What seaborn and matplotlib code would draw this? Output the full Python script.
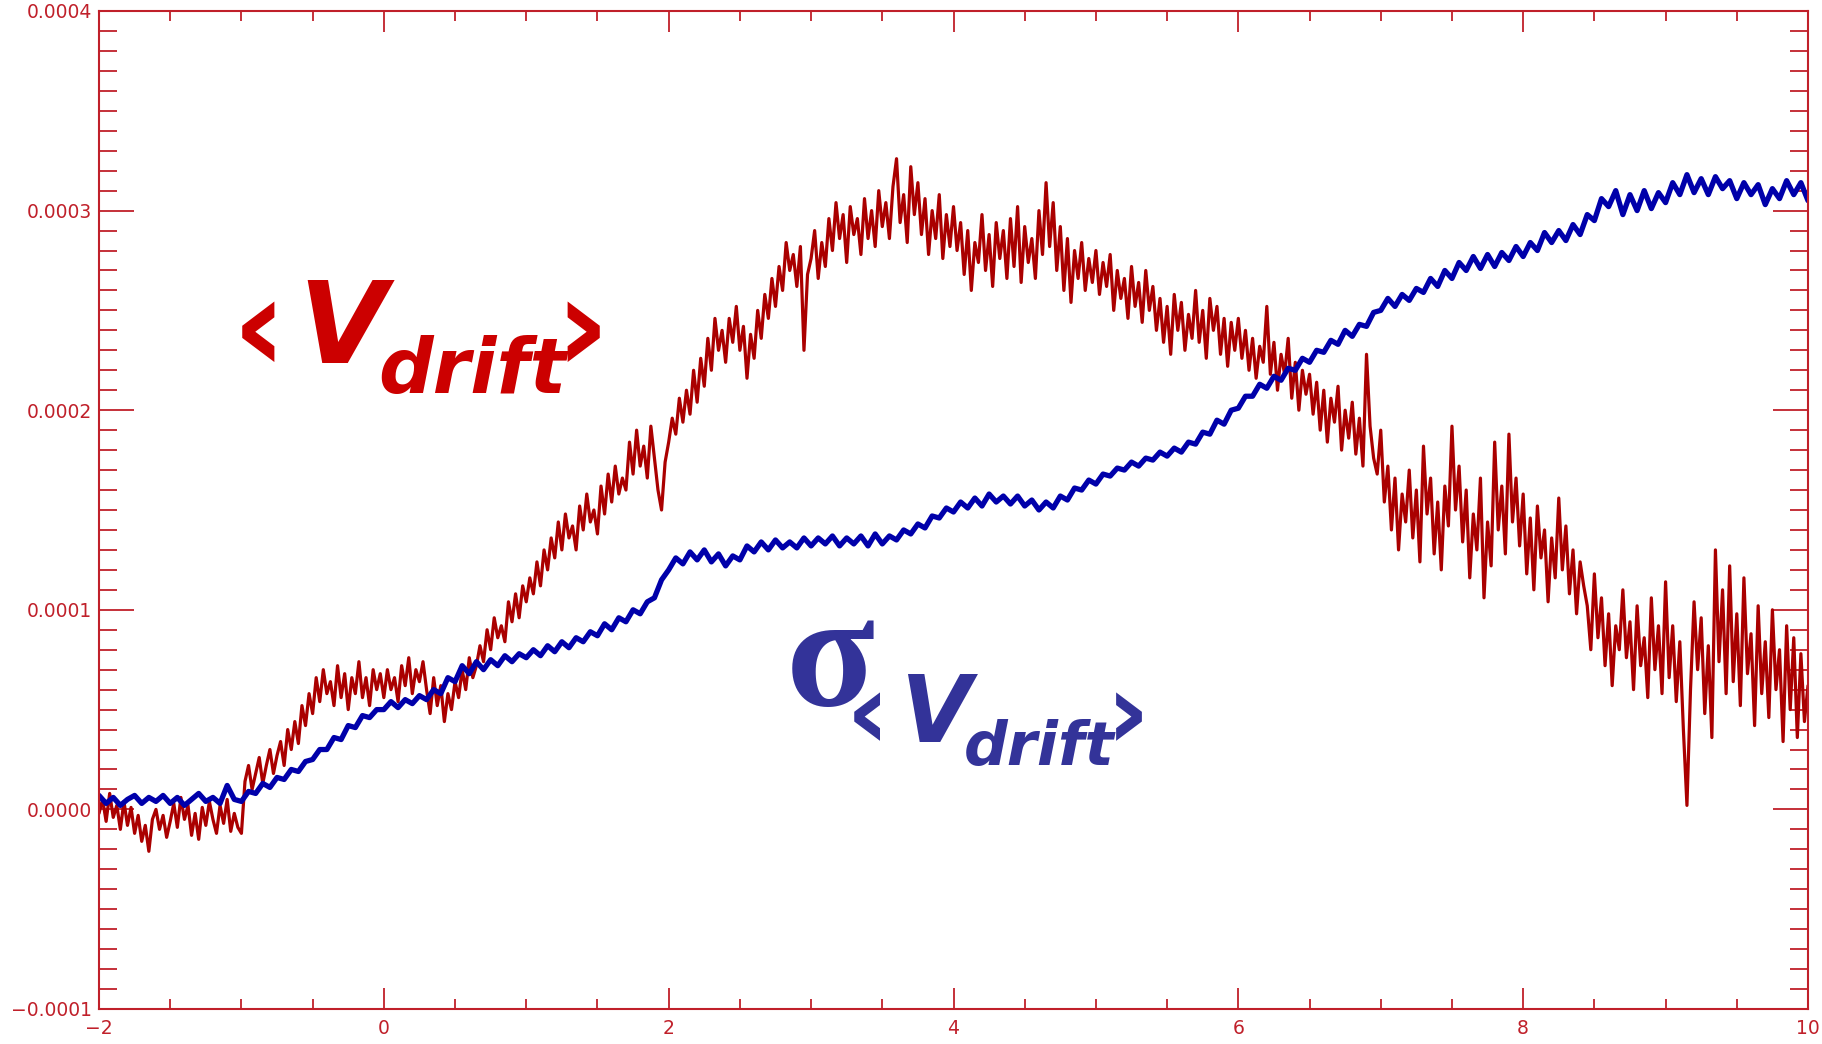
import numpy as np
import pandas as pd
import matplotlib
matplotlib.use("Agg")
import matplotlib.pyplot as plt
import seaborn as sns
from matplotlib.ticker import MultipleLocator, FuncFormatter

# <V_drift>, every 0.025 in t, in units of 1e-4
v_drift = [
    -0.02, 0.05, -0.06, 0.08, -0.04, 0.02, -0.10, 0.04, -0.08, 0.01, -0.12, -0.03, -0.16, -0.08, -0.21, -0.05, 0.00, -0.10, -0.03, -0.14,
    -0.06, 0.03, -0.09, 0.06, -0.05, 0.02, -0.13, -0.02, -0.15, 0.01, -0.08, 0.04, -0.05, -0.12, 0.02, -0.07, 0.05, -0.11, -0.02, -0.09,
    -0.12, 0.14, 0.22, 0.10, 0.18, 0.26, 0.13, 0.22, 0.30, 0.18, 0.27, 0.34, 0.22, 0.40, 0.30, 0.44, 0.33, 0.52, 0.42, 0.58,
    0.48, 0.66, 0.54, 0.70, 0.58, 0.64, 0.52, 0.72, 0.56, 0.68, 0.50, 0.66, 0.58, 0.74, 0.56, 0.66, 0.52, 0.70, 0.60, 0.68,
    0.56, 0.70, 0.60, 0.66, 0.54, 0.72, 0.62, 0.76, 0.58, 0.70, 0.64, 0.74, 0.60, 0.48, 0.66, 0.52, 0.62, 0.44, 0.58, 0.50,
    0.64, 0.56, 0.70, 0.60, 0.76, 0.66, 0.72, 0.82, 0.74, 0.90, 0.80, 0.96, 0.86, 0.92, 0.84, 1.04, 0.94, 1.08, 0.96, 1.12,
    1.04, 1.16, 1.08, 1.24, 1.12, 1.30, 1.20, 1.36, 1.26, 1.44, 1.30, 1.48, 1.36, 1.42, 1.30, 1.52, 1.40, 1.58, 1.44, 1.50,
    1.38, 1.62, 1.48, 1.68, 1.54, 1.72, 1.58, 1.66, 1.60, 1.84, 1.68, 1.90, 1.72, 1.82, 1.66, 1.92, 1.76, 1.60, 1.50, 1.74,
    1.84, 1.96, 1.88, 2.06, 1.94, 2.10, 1.98, 2.20, 2.04, 2.26, 2.12, 2.36, 2.20, 2.46, 2.30, 2.40, 2.24, 2.46, 2.34, 2.52,
    2.30, 2.42, 2.16, 2.38, 2.26, 2.50, 2.36, 2.58, 2.46, 2.66, 2.52, 2.72, 2.60, 2.84, 2.70, 2.78, 2.62, 2.82, 2.30, 2.68,
    2.76, 2.90, 2.66, 2.84, 2.72, 2.96, 2.80, 3.04, 2.86, 2.98, 2.74, 3.02, 2.88, 2.96, 2.78, 3.06, 2.86, 3.00, 2.82, 3.10,
    2.92, 3.04, 2.86, 3.12, 3.26, 2.94, 3.08, 2.84, 3.22, 2.98, 3.14, 2.88, 3.06, 2.78, 3.00, 2.86, 3.08, 2.76, 2.98, 2.82,
    3.02, 2.80, 2.94, 2.68, 2.90, 2.60, 2.84, 2.74, 2.98, 2.70, 2.88, 2.62, 2.94, 2.76, 2.90, 2.66, 2.96, 2.72, 3.02, 2.64,
    2.92, 2.74, 2.86, 2.66, 3.00, 2.78, 3.14, 2.82, 3.04, 2.70, 2.92, 2.60, 2.86, 2.54, 2.80, 2.66, 2.84, 2.60, 2.76, 2.64,
    2.80, 2.58, 2.74, 2.62, 2.78, 2.50, 2.70, 2.56, 2.66, 2.46, 2.72, 2.52, 2.64, 2.44, 2.70, 2.50, 2.62, 2.40, 2.56, 2.34,
    2.52, 2.28, 2.58, 2.40, 2.54, 2.30, 2.48, 2.36, 2.60, 2.34, 2.50, 2.26, 2.56, 2.40, 2.52, 2.28, 2.46, 2.22, 2.44, 2.30,
    2.46, 2.26, 2.40, 2.20, 2.36, 2.16, 2.32, 2.24, 2.52, 2.18, 2.34, 2.10, 2.28, 2.18, 2.36, 2.06, 2.24, 2.00, 2.20, 2.08,
    2.18, 1.98, 2.14, 1.90, 2.10, 1.84, 2.06, 1.94, 2.12, 1.80, 2.00, 1.86, 2.04, 1.78, 1.96, 1.72, 2.28, 1.92, 1.76, 1.68,
    1.90, 1.54, 1.72, 1.40, 1.66, 1.30, 1.58, 1.44, 1.70, 1.36, 1.60, 1.24, 1.82, 1.48, 1.66, 1.28, 1.54, 1.20, 1.62, 1.42,
    1.92, 1.50, 1.72, 1.34, 1.60, 1.16, 1.48, 1.30, 1.66, 1.06, 1.44, 1.22, 1.84, 1.40, 1.62, 1.28, 1.88, 1.44, 1.66, 1.32,
    1.58, 1.18, 1.46, 1.10, 1.52, 1.26, 1.40, 1.04, 1.36, 1.16, 1.56, 1.20, 1.42, 1.08, 1.30, 0.98, 1.24, 1.12, 1.02, 0.80,
    1.18, 0.86, 1.06, 0.72, 0.98, 0.62, 0.92, 0.80, 1.10, 0.76, 0.94, 0.60, 1.02, 0.72, 0.86, 0.56, 1.06, 0.70, 0.92, 0.58,
    1.14, 0.66, 0.92, 0.54, 0.84, 0.40, 0.02, 0.60, 1.04, 0.70, 0.96, 0.48, 0.82, 0.36, 1.30, 0.74, 1.10, 0.58, 1.22, 0.64,
    0.98, 0.52, 1.16, 0.68, 0.88, 0.42, 1.02, 0.58, 0.84, 0.46, 1.00, 0.60, 0.80, 0.34, 0.92, 0.50, 0.86, 0.36, 0.78, 0.44,
    0.62,
]

sigma_v = [
    0.07, 0.03, 0.06, 0.02, 0.05, 0.07, 0.03, 0.06, 0.04, 0.07, 0.03, 0.06, 0.02, 0.05, 0.08, 0.04, 0.06, 0.03, 0.12, 0.05,
    0.04, 0.09, 0.08, 0.13, 0.11, 0.16, 0.15, 0.20, 0.19, 0.24, 0.25, 0.30, 0.30, 0.36, 0.35, 0.42, 0.41, 0.47, 0.46, 0.50,
    0.50, 0.54, 0.51, 0.55, 0.53, 0.57, 0.55, 0.60, 0.58, 0.66, 0.64, 0.72, 0.68, 0.74, 0.70, 0.75, 0.72, 0.77, 0.74, 0.78,
    0.76, 0.80, 0.77, 0.82, 0.79, 0.84, 0.81, 0.86, 0.84, 0.89, 0.87, 0.93, 0.90, 0.96, 0.94, 1.00, 0.98, 1.04, 1.06, 1.15,
    1.20, 1.26, 1.23, 1.29, 1.25, 1.30, 1.24, 1.28, 1.22, 1.27, 1.25, 1.32, 1.29, 1.34, 1.30, 1.35, 1.31, 1.34, 1.31, 1.36,
    1.32, 1.36, 1.33, 1.37, 1.32, 1.36, 1.33, 1.37, 1.32, 1.38, 1.33, 1.37, 1.35, 1.40, 1.38, 1.43, 1.41, 1.47, 1.46, 1.51,
    1.49, 1.54, 1.51, 1.56, 1.52, 1.58, 1.54, 1.57, 1.53, 1.57, 1.52, 1.55, 1.50, 1.54, 1.51, 1.57, 1.55, 1.61, 1.60, 1.65,
    1.63, 1.68, 1.67, 1.71, 1.70, 1.74, 1.72, 1.76, 1.75, 1.79, 1.77, 1.81, 1.79, 1.84, 1.83, 1.89, 1.88, 1.95, 1.93, 2.00,
    2.01, 2.07, 2.07, 2.13, 2.11, 2.17, 2.15, 2.21, 2.20, 2.26, 2.24, 2.30, 2.29, 2.35, 2.33, 2.40, 2.37, 2.43, 2.42, 2.49,
    2.50, 2.56, 2.52, 2.58, 2.55, 2.61, 2.59, 2.66, 2.62, 2.70, 2.66, 2.74, 2.70, 2.77, 2.71, 2.78, 2.72, 2.79, 2.75, 2.82,
    2.77, 2.84, 2.80, 2.89, 2.84, 2.90, 2.85, 2.93, 2.88, 2.98, 2.95, 3.06, 3.02, 3.10, 2.98, 3.08, 3.00, 3.10, 3.01, 3.09,
    3.04, 3.14, 3.08, 3.18, 3.09, 3.16, 3.08, 3.17, 3.11, 3.15, 3.06, 3.14, 3.08, 3.13, 3.03, 3.11, 3.06, 3.15, 3.08, 3.14,
    3.05,
]

T_START, T_END = -2, 10
UNIT = 1e-4
W, H = 1822, 1044
AXC = "#C0202A"
RED_LINE, BLUE_LINE = "#AA0000", "#0000AA"
RED_TXT, BLUE_TXT = "#CC0000", "#333399"

df_v = pd.DataFrame({
    "t": np.linspace(T_START, T_END, len(v_drift)),
    "val": np.array(v_drift) * UNIT,
})
df_s = pd.DataFrame({
    "t": np.linspace(T_START, T_END, len(sigma_v)),
    "val": np.array(sigma_v) * UNIT,
})

sns.set_style("white")
fig = plt.figure(figsize=(W / 100, H / 100), dpi=100)
ax = fig.add_axes([99 / W, 1 - 1009 / H, (1808 - 99) / W, (1009 - 11) / H])

sns.lineplot(data=df_v, x="t", y="val", color=RED_LINE, lw=2.3,
             estimator=None, sort=False, ax=ax)
sns.lineplot(data=df_s, x="t", y="val", color=BLUE_LINE, lw=3.8,
             estimator=None, sort=False, ax=ax)

ax.set_xlim(T_START, T_END)
ax.set_ylim(-1e-4, 4e-4)
ax.set_xlabel("")
ax.set_ylabel("")

for sp in ax.spines.values():
    sp.set_color(AXC)
    sp.set_linewidth(1.5)

ax.xaxis.set_major_locator(MultipleLocator(2))
ax.xaxis.set_minor_locator(MultipleLocator(0.5))
ax.yaxis.set_major_locator(MultipleLocator(1e-4))
ax.yaxis.set_minor_locator(MultipleLocator(1e-5))


def yfmt(v, pos):
    if abs(v) < 1e-12:
        v = 0.0
    return f"{v:.4f}".replace("-", "\u2212")


ax.yaxis.set_major_formatter(FuncFormatter(yfmt))
ax.tick_params(which="both", direction="in", top=True, right=True,
               bottom=True, left=True, color=AXC, width=1.3,
               labelcolor=AXC, labelsize=13.5)
ax.tick_params(axis="x", which="major", length=15, pad=7)
ax.tick_params(axis="x", which="minor", length=7)
ax.tick_params(axis="y", which="major", length=25, pad=5)
ax.tick_params(axis="y", which="minor", length=13)


def ptxt(px, py, s, size, color, family="DejaVu Sans", style="oblique"):
    fig.text(px / W, 1 - py / H, s, fontsize=size, color=color,
             family=family, style=style, weight="bold",
             ha="left", va="baseline")


# <V_drift>
ptxt(232, 371, "\u2039", 96, RED_TXT, style="normal")
ptxt(298, 363, "V", 82, RED_TXT)
ptxt(378, 393, "drift", 55, RED_TXT)
ptxt(554, 371, "\u203a", 96, RED_TXT, style="normal")

# sigma_<V_drift>
ptxt(786, 705, "\u03c3", 118, BLUE_TXT, family="Liberation Serif", style="normal")
ptxt(846, 748, "\u2039", 77, BLUE_TXT, style="normal")
ptxt(900, 742, "V", 66, BLUE_TXT)
ptxt(964, 765, "drift", 44, BLUE_TXT)
ptxt(1106, 748, "\u203a", 77, BLUE_TXT, style="normal")

fig.savefig("out.png", dpi=100)
